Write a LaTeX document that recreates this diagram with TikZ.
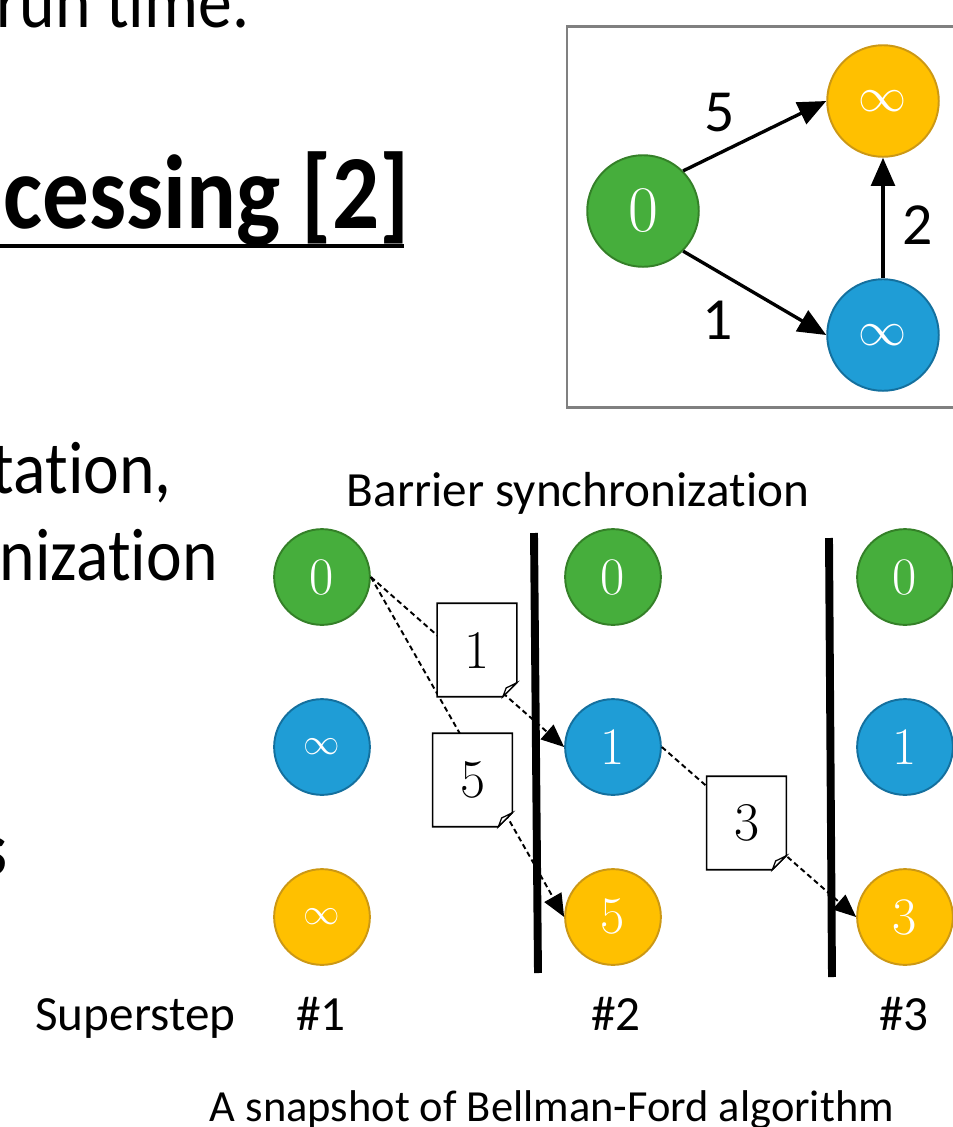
\documentclass[tikz,border=0pt]{standalone}
\usepackage{fontspec}
\setsansfont{Carlito}
\usetikzlibrary{arrows.meta,calc}
\newcommand{\nolig}{\kern0pt}

\begin{document}
\begin{tikzpicture}[x=0.02cm, y=-0.02cm,
    every node/.style={font=\sffamily, inner sep=0pt},
    vtx/.style={circle, draw, line width=1.1pt, minimum size=54.5pt, text=white},
    bigvtx/.style={vtx, minimum size=63.5pt},
    greenv/.style={fill=vgreen, draw=vgreenline},
    bluev/.style={fill=vblue, draw=vblueline},
    yellowv/.style={fill=vyellow, draw=vyellowline},
    num/.style={font=\rmfamily\fontsize{30}{30}\selectfont},
    infnum/.style={font=\fontsize{20.74}{20.74}\selectfont},
    bignum/.style={font=\rmfamily\fontsize{37}{37}\selectfont},
    biginf/.style={font=\fontsize{24.88}{24.88}\selectfont},
    edge/.style={line width=1.9pt, -{Triangle[length=16pt, width=13.5pt]}},
    weight/.style={font=\sffamily\fontsize{34}{34}\selectfont},
    msgline/.style={line width=1.1pt, dash pattern=on 3pt off 2pt,
        -{Triangle[length=13pt, width=11pt]}},
    barrier/.style={line width=4.5pt},
    notebox/.style={fill=white, draw=black, line width=0.9pt},
    notetext/.style={font=\rmfamily\fontsize{31}{31}\selectfont},
    slide/.style={font=\sffamily\fontsize{38.5}{38.5}\selectfont},
    caption/.style={font=\sffamily\fontsize{28}{28}\selectfont}]
    \definecolor{vgreen}{RGB}{70,174,60}
    \definecolor{vgreenline}{RGB}{52,128,40}
    \definecolor{vblue}{RGB}{31,157,214}
    \definecolor{vblueline}{RGB}{20,112,158}
    \definecolor{vyellow}{RGB}{255,192,0}
    \definecolor{vyellowline}{RGB}{204,152,20}
    \definecolor{boxgray}{RGB}{128,128,128}

    \clip (0,0) rectangle (953,1127);

    % Slide text cut by the frame.
    \node[slide, anchor=base west] (runtime) at (-4,27) {\scalebox{1}[1.1]{run t\nolig ime.}};
    \node[anchor=base east, font=\sffamily\bfseries\fontsize{53}{53}\selectfont] (heading) at (410,228) {\scalebox{1}[1.13]{cessing [2]}};
    \draw[line width=1.9pt] (0,246) -- (404,246);
    \node[slide, anchor=base east] (computation) at (172,493) {\scalebox{1}[1.1]{tat\nolig ion,}};
    \node[slide, anchor=base east] (synchro) at (218,580) {\scalebox{1}[1.1]{nizat\nolig ion}};
    \node[anchor=base east, font=\sffamily\bfseries\fontsize{44}{44}\selectfont] (bullet) at (8,875) {s};

    % Input graph.
    \draw[boxgray, line width=1.7pt] (567,26) rectangle (970,407);
    \node[bigvtx, greenv, bignum] (src) at (643,211) {0\hspace{7pt}};
    \node[bigvtx, yellowv, biginf] (top) at (883,101) {\scalebox{1.1}{$\infty$}};
    \node[bigvtx, bluev, biginf] (bot) at (883,335) {\scalebox{1.1}{$\infty$}};
    \draw[edge] (src.45) -- (top.west);
    \draw[edge] (src.-45) -- (bot.west);
    \draw[edge] (bot.north) -- (top.south);
    \node[weight] (w5) at (720,113) {5};
    \node[weight] (w1) at (718,320) {1};
    \node[weight] (w2) at (918,225) {2};

    % Supersteps.
    \node[caption] (barrierlabel) at (578,493) {Barrier synchronizat\nolig ion};
    \node[vtx, greenv, num] (g1) at (322,577) {0};
    \node[vtx, bluev, infnum] (b1) at (322,747) {$\infty$};
    \node[vtx, yellowv, infnum] (y1) at (322,917) {$\infty$};
    \node[vtx, greenv, num] (g2) at (613,577) {0};
    \node[vtx, bluev, num] (b2) at (613,747) {1};
    \node[vtx, yellowv, num] (y2) at (613,917) {5};
    \node[vtx, greenv, num] (g3) at (905,577) {0};
    \node[vtx, bluev, num] (b3) at (905,747) {1};
    \node[vtx, yellowv, num] (y3) at (905,917) {3};

    \draw[msgline] (g1.east) -- (b2.west);
    \draw[msgline] (g1.east) -- (y2.west);
    \draw[msgline] (b2.east) -- (y3.west);

    \draw[barrier] (534,533) -- (538,973);
    \draw[barrier] (829,538) -- (832,977);

    \newcommand{\msgnote}[4]{%
        \filldraw[notebox]
            ($(#2,#3)+(-22.7pt,26.6pt)$) -- ($(#2,#3)+(22.7pt,26.6pt)$)
            -- ($(#2,#3)+(22.7pt,-18.6pt)$) -- ($(#2,#3)+(14.7pt,-26.6pt)$)
            -- ($(#2,#3)+(-22.7pt,-26.6pt)$) -- cycle;
        \filldraw[notebox, line width=0.7pt]
            ($(#2,#3)+(14.7pt,-26.6pt)$) -- ($(#2,#3)+(16.6pt,-21.6pt)$)
            -- ($(#2,#3)+(22.7pt,-18.6pt)$) -- cycle;
        \node[notetext] (#1) at (#2,#3) {#4};
    }

    % Messages in flight.
    \msgnote{m1}{477}{650}{1}
    \msgnote{m5}{472.5}{780}{5}
    \msgnote{m3}{746.5}{823}{3}

    \node[caption, anchor=base west] (superstep) at (35,1030) {Superstep};
    \node[caption, anchor=base] (s1) at (321,1030) {\#1};
    \node[caption, anchor=base] (s2) at (616,1030) {\#2};
    \node[caption, anchor=base] (s3) at (904,1030) {\#3};
    \node[caption, anchor=base, font=\sffamily\fontsize{25.3}{25.3}\selectfont] (snapshot) at (552,1121) {A snapshot of Bellman-Ford algorithm};
\end{tikzpicture}
\end{document}
